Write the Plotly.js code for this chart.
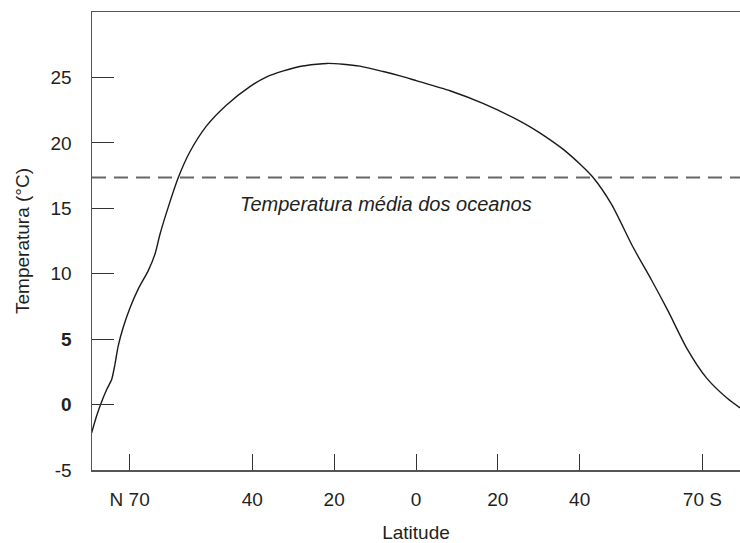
<!DOCTYPE html>
<html>
<head>
<meta charset="utf-8">
<script src="https://cdn.plot.ly/plotly-3.0.1.min.js"></script>
<style>html,body{margin:0;padding:0;background:#fff;}#chart{width:740px;height:543px;}</style>
</head>
<body>
<div id="chart"></div>
<script>
// Latitude: negative = North, positive = South
const latitude = [-79.3, -78.1, -76.8, -75.6, -74.4, -73.6, -72.8, -71.6, -69.9, -67.8, -65.5, -63.8, -62.6, -60.6, -58.1, -55.3, -51.2, -46.3, -40.6, -36.5, -32.4, -28.4, -24.3, -21.8, -17.8, -13.7, -8.0, -3.9, 0.2, 8.3, 16.5, 24.6, 28.0, 32.0, 36.0, 40.0, 43.3, 47.8, 53.1, 57.6, 61.7, 66.2, 71.1, 76.0, 79.2];
const temperature = [-2.17, -0.89, 0.26, 1.15, 1.91, 3.06, 4.47, 5.87, 7.4, 8.9, 10.2, 11.5, 13.0, 15.05, 17.35, 19.3, 21.3, 22.9, 24.3, 25.05, 25.5, 25.84, 26.01, 26.07, 26.01, 25.86, 25.45, 25.12, 24.74, 23.98, 23.0, 21.8, 21.2, 20.4, 19.5, 18.4, 17.35, 15.3, 12.0, 9.5, 7.1, 4.3, 2.0, 0.5, -0.25];
const meanOceanTemp = 17.35;
const xTickVals = [-70, -40, -20, 0, 20, 40, 70];
const xTickText = ["N 70", "40", "20", "0", "20", "40", "70 S"];
const yTickVals = [-5, 0, 5, 10, 15, 20, 25];
const yTickText = ["-5", "<b>0</b>", "<b>5</b>", "10", "15", "20", "25"];
const xRange = [-79.2, 79.2];

const textColor = "#231f20";
const family = "Liberation Sans, Arial, sans-serif";
const tickFont = {family: family, size: 19, color: textColor};
const titleFont = {family: family, size: 19, color: textColor};

const traces = [
  {
    x: latitude, y: temperature, type: "scatter", mode: "lines",
    line: {color: "#1a1a1a", width: 1.4, shape: "spline", smoothing: 0.7},
    hoverinfo: "skip"
  },
  {
    x: xRange, y: [meanOceanTemp, meanOceanTemp], type: "scatter", mode: "lines",
    line: {color: "#666666", width: 2, dash: "14px,8px"},
    hoverinfo: "skip"
  }
];

const layout = {
  width: 740, height: 543,
  margin: {l: 92, r: 0, t: 12, b: 73},
  paper_bgcolor: "#fff", plot_bgcolor: "#fff",
  showlegend: false,
  font: tickFont,
  xaxis: {
    range: xRange, tickmode: "array", tickvals: xTickVals, ticktext: xTickText,
    ticks: "inside", ticklen: 16, tickwidth: 1, tickcolor: "#333",
    showline: true, linecolor: "#555", linewidth: 1.5, mirror: true,
    showgrid: false, zeroline: false, ticklabelstandoff: 12,
    tickfont: tickFont,
    title: {text: "Latitude", font: titleFont, standoff: 28}
  },
  yaxis: {
    range: [-5, 30], tickmode: "array", tickvals: yTickVals, ticktext: yTickText,
    ticks: "inside", ticklen: 22, tickwidth: 1, tickcolor: "#333",
    showline: true, linecolor: "#555", linewidth: 1.5,
    showgrid: false, zeroline: false, ticklabelstandoff: 15,
    tickfont: tickFont,
    title: {text: "Temperatura (°C)", font: titleFont, standoff: 16}
  },
  annotations: [{
    x: -7.3, y: 15.3, xref: "x", yref: "y", showarrow: false,
    text: "Temperatura média dos oceanos",
    font: {family: family, size: 20, color: textColor, style: "italic"}
  }]
};

Plotly.newPlot("chart", traces, layout, {displayModeBar: false, staticPlot: true});
</script>
</body>
</html>
